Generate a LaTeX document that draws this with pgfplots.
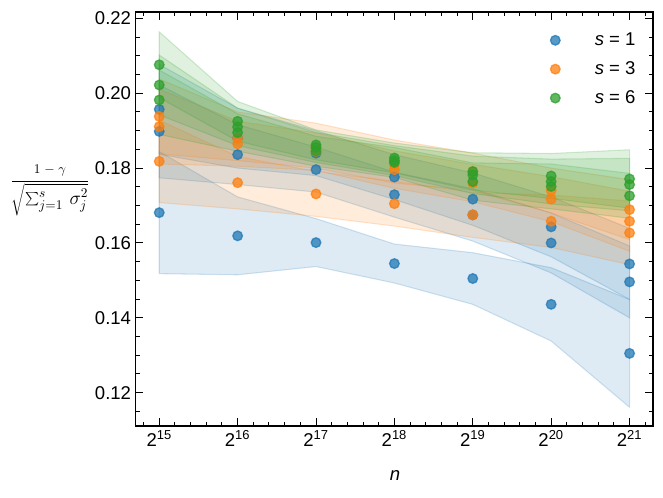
\documentclass[border=0pt]{standalone}
\usepackage{fontspec}
\setmainfont{Liberation Sans}
\usepackage{pgfplots}
\pgfplotsset{compat=1.18}
\definecolor{C0}{HTML}{1F77B4}
\definecolor{C1}{HTML}{FF7F0E}
\definecolor{C2}{HTML}{2CA02C}
\newcommand{\fs}{\fontsize{13.9}{16.5}\selectfont}
\pgfplotsset{
  pts/.style={only marks, mark=*, mark size=3.6pt, forget plot,
    mark options={fill=#1, draw=#1, line width=1pt, fill opacity=0.75, draw opacity=0.75}},
  band/.style={fill=#1, fill opacity=0.15, draw=#1, draw opacity=0.2, line width=0.8pt, forget plot},
  legpt/.style={only marks, mark=*, mark size=3.6pt,
    mark options={fill=#1, draw=#1, line width=1pt, fill opacity=0.75, draw opacity=0.75}},
}
\begin{document}
\begin{tikzpicture}
\path (0pt,0pt) rectangle (497.25pt,372.75pt);
\begin{axis}[
  at={(101.8pt,53.25pt)}, anchor=south west,
  scale only axis, width=388pt, height=310.5pt,
  xmin=14.7, xmax=21.3, ymin=0.1111, ymax=0.2217,
  xtick={15,16,17,18,19,20,21},
  xticklabels={2\textsuperscript{15},2\textsuperscript{16},2\textsuperscript{17},2\textsuperscript{18},2\textsuperscript{19},2\textsuperscript{20},2\textsuperscript{21}},
  minor xtick={14.8,15.2,15.4,15.6,15.8,16.2,16.4,16.6,16.8,17.2,17.4,17.6,17.8,18.2,18.4,18.6,18.8,19.2,19.4,19.6,19.8,20.2,20.4,20.6,20.8,21.2},
  ytick={0.12,0.14,0.16,0.18,0.20,0.22},
  minor ytick={0.115,0.125,0.13,0.135,0.145,0.15,0.155,0.165,0.17,0.175,0.185,0.19,0.195,0.205,0.21,0.215,0.22},
  yticklabel style={/pgf/number format/.cd, fixed, fixed zerofill, precision=2, assume math mode=true},
  tick label style={font=\fs},
  tick align=inside, xtick pos=both, ytick pos=both,
  major tick length=5.8pt, minor tick length=3pt,
  every tick/.style={black, line width=0.75pt},
  axis line style={line width=0.9pt},
  xlabel={\textit{n}},
  every axis x label/.style={at={(rel axis cs:0.501,-0.1184)}, anchor=center, font=\fs},
  ylabel={$\displaystyle\frac{\scriptstyle 1\mskip5mu{-}\mskip5mu\gamma}{\sqrt{\textstyle\sum\nolimits_{j=1}^{s}\,\sigma_j^2}}$},
  every axis y label/.style={at={(rel axis cs:-0.1657,0.570)}, anchor=center, font=\fs},
  legend style={draw=none, fill=none, at={(rel axis cs:1,1)}, anchor=north east, xshift=-8pt, yshift=-11.5pt, font=\fs, row sep=6.5pt},
  legend cell align=left,
]
% ---------- s = 1 ----------
\addplot[pts=C0] coordinates {(15,0.1681)(16,0.1619)(17,0.1601)(18,0.1545)(19,0.1505)(20,0.1436)(21,0.1305)};
\addplot[band=C0] coordinates {(15,0.1518)(16,0.1515)(17,0.1537)(18,0.1493)(19,0.1436)(20,0.1338)(21,0.1161)
  (21,0.1449)(20,0.1534)(19,0.1574)(18,0.1597)(17,0.1665)(16,0.1723)(15,0.1844)} -- cycle;
\addplot[pts=C0] coordinates {(15,0.1957)(16,0.1880)(17,0.1840)(18,0.1776)(19,0.1717)(20,0.1643)(21,0.1544)};
\addplot[band=C0] coordinates {(15,0.1837)(16,0.1800)(17,0.1780)(18,0.1716)(19,0.1647)(20,0.1563)(21,0.1449)
  (21,0.1639)(20,0.1723)(19,0.1787)(18,0.1836)(17,0.1900)(16,0.1960)(15,0.2077)} -- cycle;
\addplot[pts=C0] coordinates {(15,0.1898)(16,0.1836)(17,0.1796)(18,0.1729)(19,0.1675)(20,0.1600)(21,0.1496)};
\addplot[band=C0] coordinates {(15,0.1774)(16,0.1756)(17,0.1736)(18,0.1669)(19,0.1605)(20,0.1520)(21,0.1400)
  (21,0.1592)(20,0.1680)(19,0.1745)(18,0.1789)(17,0.1856)(16,0.1916)(15,0.2022)} -- cycle;
% ---------- s = 3 ----------
\addplot[pts=C1] coordinates {(15,0.1818)(16,0.1761)(17,0.1731)(18,0.1705)(19,0.1675)(20,0.1658)(21,0.1627)};
\addplot[band=C1] coordinates {(15,0.1708)(16,0.1691)(17,0.1671)(18,0.1645)(19,0.1615)(20,0.1588)(21,0.1542)
  (21,0.1712)(20,0.1728)(19,0.1735)(18,0.1765)(17,0.1791)(16,0.1831)(15,0.1928)} -- cycle;
\addplot[pts=C1] coordinates {(15,0.1911)(16,0.1865)(17,0.1844)(18,0.1796)(19,0.1760)(20,0.1717)(21,0.1658)};
\addplot[band=C1] coordinates {(15,0.1811)(16,0.1805)(17,0.1794)(18,0.1746)(19,0.1710)(20,0.1657)(21,0.1578)
  (21,0.1738)(20,0.1777)(19,0.1810)(18,0.1846)(17,0.1894)(16,0.1925)(15,0.2011)} -- cycle;
\addplot[pts=C1] coordinates {(15,0.1938)(16,0.1880)(17,0.1855)(18,0.1810)(19,0.1790)(20,0.1740)(21,0.1689)};
\addplot[band=C1] coordinates {(15,0.1838)(16,0.1820)(17,0.1800)(18,0.1760)(19,0.1740)(20,0.1680)(21,0.1609)
  (21,0.1769)(20,0.1800)(19,0.1840)(18,0.1875)(17,0.1920)(16,0.1950)(15,0.2038)} -- cycle;
% ---------- s = 6 ----------
\addplot[pts=C2] coordinates {(15,0.2022)(16,0.1910)(17,0.1855)(18,0.1820)(19,0.1782)(20,0.1764)(21,0.1756)};
\addplot[band=C2] coordinates {(15,0.1942)(16,0.1860)(17,0.1815)(18,0.1780)(19,0.1732)(20,0.1704)(21,0.1686)
  (21,0.1826)(20,0.1824)(19,0.1832)(18,0.1860)(17,0.1895)(16,0.1960)(15,0.2102)} -- cycle;
\addplot[pts=C2] coordinates {(15,0.1982)(16,0.1895)(17,0.1845)(18,0.1815)(19,0.1764)(20,0.1751)(21,0.1726)};
\addplot[band=C2] coordinates {(15,0.1890)(16,0.1845)(17,0.1805)(18,0.1775)(19,0.1714)(20,0.1691)(21,0.1666)
  (21,0.1786)(20,0.1811)(19,0.1814)(18,0.1855)(17,0.1885)(16,0.1945)(15,0.2062)} -- cycle;
\addplot[pts=C2] coordinates {(15,0.2076)(16,0.1925)(17,0.1862)(18,0.1827)(19,0.1791)(20,0.1779)(21,0.1771)};
\addplot[band=C2] coordinates {(15,0.1988)(16,0.1872)(17,0.1822)(18,0.1787)(19,0.1741)(20,0.1719)(21,0.1693)
  (21,0.1849)(20,0.1839)(19,0.1841)(18,0.1867)(17,0.1902)(16,0.1978)(15,0.2164)} -- cycle;
% ---------- legend ----------
\addlegendimage{legpt=C0}
\addlegendentry{\hspace{24pt}\textit{s} = 1}
\addlegendimage{legpt=C1}
\addlegendentry{\hspace{24pt}\textit{s} = 3}
\addlegendimage{legpt=C2}
\addlegendentry{\hspace{24pt}\textit{s} = 6}
\end{axis}
\end{tikzpicture}
\end{document}
